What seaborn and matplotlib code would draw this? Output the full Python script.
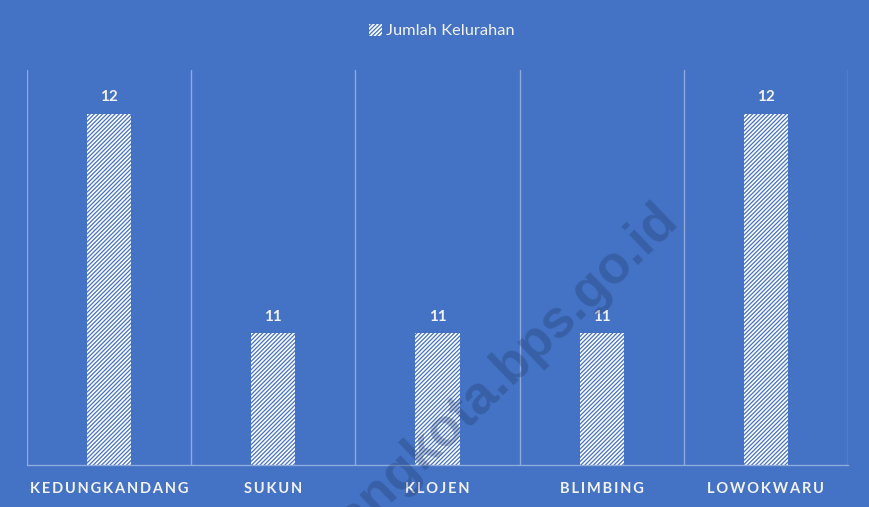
import matplotlib
matplotlib.use("Agg")
import matplotlib.pyplot as plt
import matplotlib.patches as mpatches
import seaborn as sns
import numpy as np
import pandas as pd

categories = ["KEDUNGKANDANG", "SUKUN", "KLOJEN", "BLIMBING", "LOWOKWARU"]
values = [12, 11, 11, 11, 12]
series_name = "Jumlah Kelurahan"
watermark = "malangkota.bps.go.id"

BG = "#4472C4"
GRID = "#8FAADC"
TXT = "#F2F2F2"

sns.set_theme(style="white")
plt.rcParams["font.family"] = ["Lato", "DejaVu Sans"]
plt.rcParams["hatch.linewidth"] = 0.9
plt.rcParams["hatch.color"] = BG

df = pd.DataFrame({"Kecamatan": categories, "Jumlah": values})

fig = plt.figure(figsize=(8.7, 5.07), dpi=100, facecolor=BG)
ax = fig.add_axes([27 / 870, 1 - 465 / 507, (848 - 27) / 870, (465 - 70) / 507])
ax.set_facecolor(BG)

sns.barplot(data=df, x="Kecamatan", y="Jumlah", color="white", saturation=1,
            width=0.27, ax=ax, edgecolor=BG, linewidth=0)
for p in ax.patches:
    p.set_hatch("////////")
    p.set_edgecolor(BG)
    p.set_linewidth(0)

ax.set_ylim(10.4, 12.2)
ax.set_xlim(-0.5, len(categories) - 0.5)
ax.set_yticks([])
ax.set_xlabel("")
ax.set_ylabel("")

ax.set_xticks(np.arange(len(categories) + 1) - 0.5, minor=True)
ax.grid(which="minor", axis="x", color=GRID, linewidth=1)
ax.grid(which="major", visible=False)
ax.tick_params(axis="x", which="both", length=0)
ax.tick_params(axis="x", which="major", pad=12)
ax.set_xticks(range(len(categories)))
ax.set_xticklabels(["\u2009".join(c) for c in categories], color=TXT,
                   fontsize=10.5, fontweight="bold")

for s in ["top", "left", "right"]:
    ax.spines[s].set_visible(False)
ax.spines["bottom"].set_color(GRID)
ax.spines["bottom"].set_linewidth(1)

ax.bar_label(ax.containers[0], labels=[str(v) for v in values], padding=7,
             color=TXT, fontsize=11, fontweight="bold")

handle = mpatches.Patch(facecolor="white", edgecolor=BG, linewidth=0,
                        hatch="////////", label=series_name)
fig.legend(handles=[handle], loc="center", bbox_to_anchor=(0.508, 1 - 31 / 507),
           frameon=False, fontsize=11.8, labelcolor=TXT, handlelength=0.75,
           handleheight=0.75, handletextpad=0.25)

fig.text(475 / 870, 1 - 400 / 507, watermark, rotation=44, ha="center", va="center",
         fontsize=38, fontweight="bold", color="#1F3864", alpha=0.3,
         family=["Liberation Sans", "DejaVu Sans"], zorder=10)

fig.savefig("out.png", dpi=100, facecolor=BG)
